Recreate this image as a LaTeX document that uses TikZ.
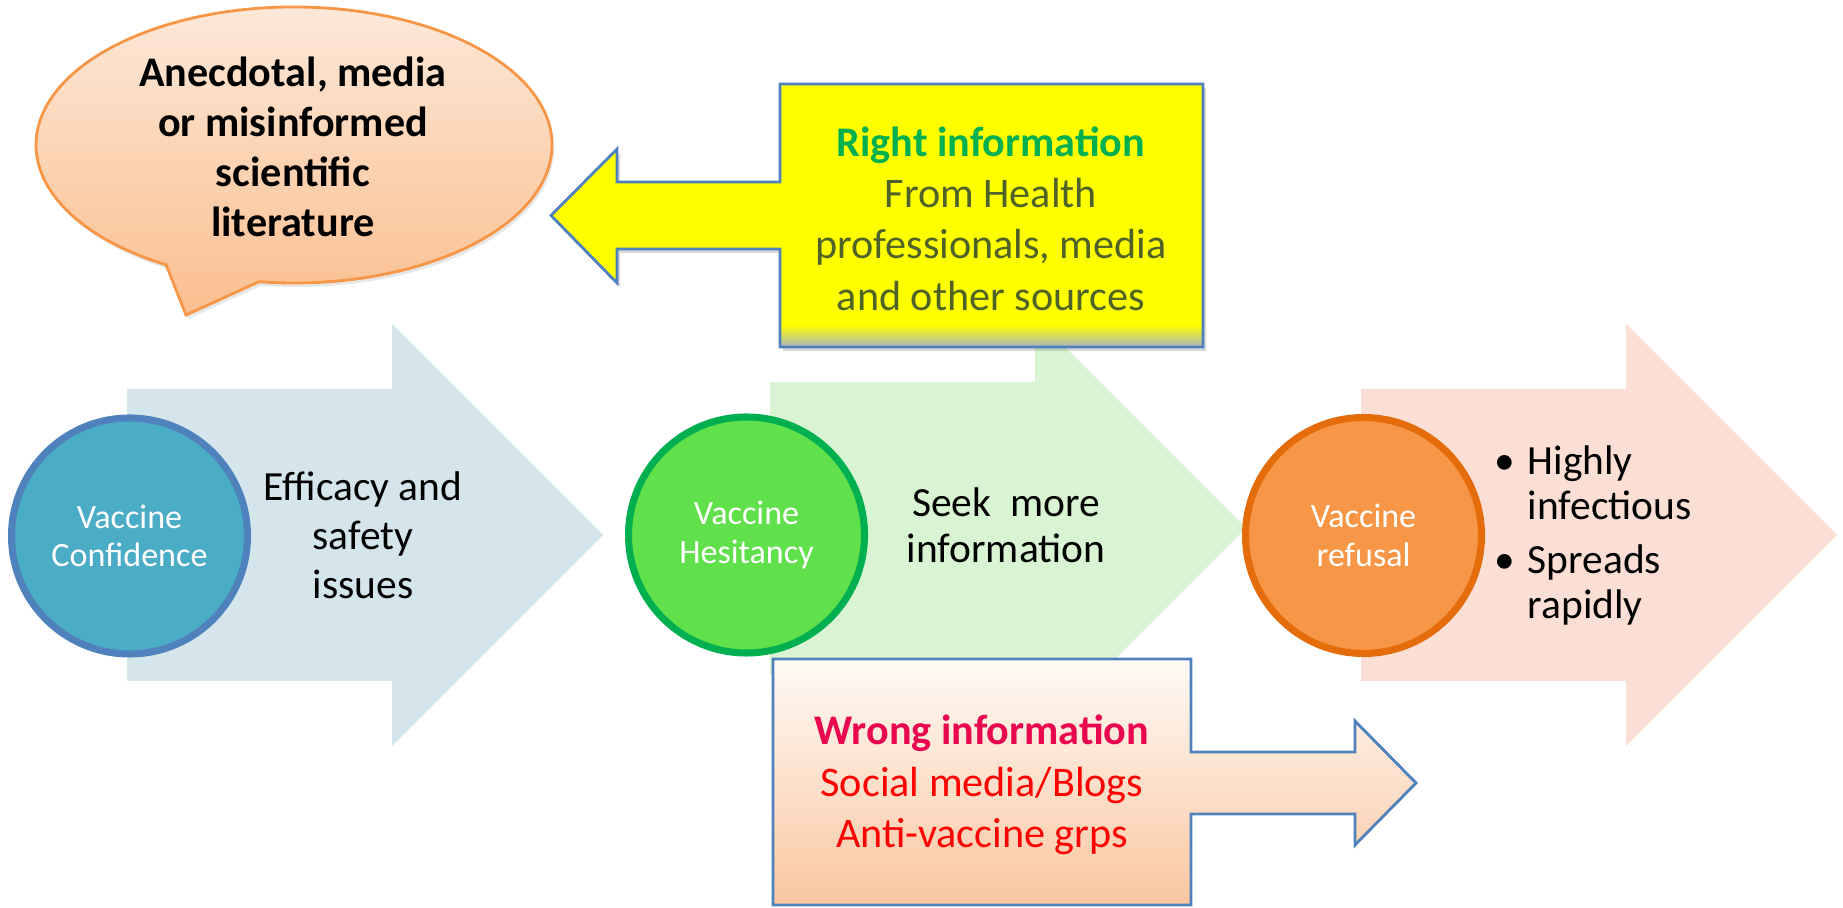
\documentclass[tikz,border=0pt]{standalone}
\usepackage{fontspec}
\setmainfont{Carlito}
\usetikzlibrary{shadows}

\definecolor{confarrow}{HTML}{D4E5EC}
\definecolor{hesarrow}{HTML}{D9F4D3}
\definecolor{refarrow}{HTML}{FBDFD5}
\definecolor{conffill}{HTML}{4BACC6}
\definecolor{confline}{HTML}{4F81BD}
\definecolor{hesfill}{HTML}{60E04A}
\definecolor{hesline}{HTML}{00B050}
\definecolor{reffill}{HTML}{F79646}
\definecolor{refline}{HTML}{E46C0A}
\definecolor{bubtop}{HTML}{FDE9DA}
\definecolor{bubbot}{HTML}{FABF8F}
\definecolor{bubline}{HTML}{F79646}
\definecolor{calloutline}{HTML}{4F81BD}
\definecolor{calloutyellow}{HTML}{FFFF00}
\definecolor{yellowfoot}{HTML}{A9B4C2}
\definecolor{olivetext}{HTML}{4F6228}
\definecolor{rightgreen}{HTML}{00B050}
\definecolor{wrongtop}{HTML}{FFFAF6}
\definecolor{wrongbot}{HTML}{FAC6A0}
\definecolor{wrongpink}{HTML}{E8074F}
\definecolor{wrongred}{HTML}{FF0000}

\begin{document}
\begin{tikzpicture}[
    stagecircle/.style={circle, line width=2pt, minimum size=2.36cm, inner sep=0pt,
        text=white, align=center, font=\fontsize{9.7}{11}\selectfont},
    stagetext/.style={align=center, font=\fontsize{11.8}{13.9}\selectfont},
    infotext/.style={align=center, font=\fontsize{12}{14.6}\selectfont},
    callout/.style={draw=calloutline, line width=0.8pt}
]
\useasboundingbox (0,0) rectangle (18.43,9.07);

% stage arrows
\foreach \x/\y/\c in {1.27/3.72/confarrow, 7.70/3.79/hesarrow, 13.61/3.72/refarrow}
    \fill[\c] (\x,\y+1.46) -- ++(2.65,0) -- ++(0,0.65) -- ++(2.11,-2.11)
        -- ++(-2.11,-2.11) -- ++(0,0.65) -- ++(-2.65,0) -- cycle;

% stage circles
\node[stagecircle, draw=confline, fill=conffill] (conf) at (1.295,3.71) {Vaccine\\Confidence};
\node[stagecircle, draw=hesline, fill=hesfill] (hes) at (7.465,3.72) {Vaccine\\Hesitancy};
\node[stagecircle, draw=refline, fill=reffill] (ref) at (13.635,3.715) {Vaccine\\refusal};

\node[stagetext] (issues) at (3.63,3.72) {Efficacy and\\safety\\issues};
\node[stagetext, font=\fontsize{11.8}{13.1}\selectfont] (seek) at (10.06,3.82) {Seek\ \ more\\information};
\node[anchor=west, align=left, inner sep=0pt, font=\fontsize{11.8}{12.8}\selectfont] (risks) at (14.94,3.715)
    {\makebox[0.33cm][l]{\textbullet}Highly\\\hspace*{0.33cm}infectious\\[2.6pt]
     \makebox[0.33cm][l]{\textbullet}Spreads\\\hspace*{0.33cm}rapidly};

% speech bubble
\shadedraw[top color=bubtop, bottom color=bubbot, draw=bubline, line width=0.8pt,
    drop shadow={opacity=0.2, shadow xshift=0.02cm, shadow yshift=-0.04cm}]
    (2.59,6.253) arc[start angle=262.2, end angle=600.3, x radius=2.58, y radius=1.38]
    -- (1.86,5.92) -- cycle;
\node[align=center, font=\bfseries\fontsize{12}{14.2}\selectfont] (rumour) at (2.93,7.60)
    {Anecdotal, media\\or misinformed\\scientific\\literature};

% right information callout
\path[fill=calloutyellow, drop shadow={opacity=0.3, shadow xshift=0.03cm, shadow yshift=-0.04cm}]
    (7.80,8.23) -- (12.03,8.23) -- (12.03,5.60) -- (7.80,5.60) -- (7.80,6.58) -- (6.17,6.58)
    -- (6.17,6.24) -- (5.51,6.915) -- (6.17,7.58) -- (6.17,7.25) -- (7.80,7.25) -- cycle;
\shade[top color=calloutyellow, bottom color=yellowfoot] (7.80,5.82) rectangle (12.03,5.60);
\draw[callout] (7.80,8.23) -- (12.03,8.23) -- (12.03,5.60) -- (7.80,5.60) -- (7.80,6.58) -- (6.17,6.58)
    -- (6.17,6.24) -- (5.51,6.915) -- (6.17,7.58) -- (6.17,7.25) -- (7.80,7.25) -- cycle;
\node[infotext, text=olivetext] (rightinfo) at (9.91,6.885)
    {\textcolor{rightgreen}{\bfseries Right information}\\From Health\\professionals, media\\and other sources};

% wrong information callout
\shadedraw[callout, top color=wrongtop, bottom color=wrongbot]
    (7.73,2.48) -- (11.91,2.48) -- (11.91,1.55) -- (13.55,1.55) -- (13.55,1.86) -- (14.16,1.24)
    -- (13.55,0.62) -- (13.55,0.93) -- (11.91,0.93) -- (11.91,0.02) -- (7.73,0.02) -- cycle;
\node[infotext, text=wrongred] (wronginfo) at (9.82,1.22)
    {\textcolor{wrongpink}{\bfseries Wrong information}\\Social media/Blogs\\Anti-vaccine grps};
\end{tikzpicture}
\end{document}
